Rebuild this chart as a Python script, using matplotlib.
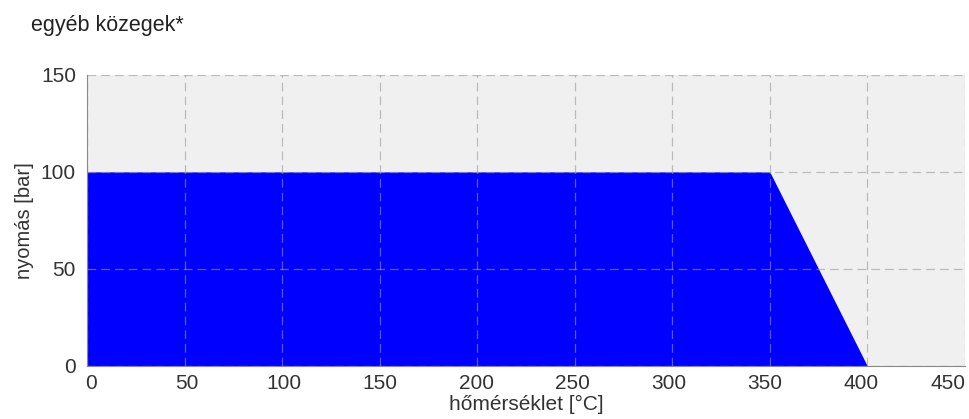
import matplotlib.pyplot as plt
from matplotlib.transforms import ScaledTranslation

plt.rcParams['font.family'] = ['Liberation Sans', 'DejaVu Sans']

# boundary of the allowed range
temp = [0, 350, 400]
pressure = [100, 100, 0]

xticks = [0, 50, 100, 150, 200, 250, 300, 350, 400, 450]
yticks = [0, 50, 100, 150]

fig = plt.figure(figsize=(9.7, 4.19), dpi=100)
ax = fig.add_axes([0.0897, 0.1265, 0.905, 0.695])
ax.set_facecolor('#f0f0f0')

ax.fill_between(temp, pressure, 0, color='#0000ff', linewidth=0, zorder=1)

ax.set_xlim(0, 450)
ax.set_ylim(0, 150)
ax.set_xticks(xticks)
ax.set_yticks(yticks)
ax.grid(True, linestyle=(0, (7, 4)), color='#999999', alpha=0.6, linewidth=0.9, zorder=2)
ax.set_axisbelow(False)
for s in ['top', 'right']:
    ax.spines[s].set_visible(False)
for s in ['left', 'bottom']:
    ax.spines[s].set_color('#888888')
    ax.spines[s].set_zorder(3)
ax.tick_params(length=0, labelsize=15, colors='#333333')
ax.tick_params(axis='x', pad=6)
ax.tick_params(axis='y', pad=8)

# first label starts at the axis, last one ends at it, the rest drift slightly left
labels = ax.get_xticklabels()
for v, lab in zip(xticks, labels):
    if v == xticks[0]:
        lab.set_ha('left')
        lab.set_transform(lab.get_transform() + ScaledTranslation(-2 / 100, 0, fig.dpi_scale_trans))
    elif v == xticks[-1]:
        lab.set_ha('right')
        lab.set_transform(lab.get_transform() + ScaledTranslation(1 / 100, 0, fig.dpi_scale_trans))
    else:
        dx = 2.7 - 0.025 * (v - 50)
        lab.set_transform(lab.get_transform() + ScaledTranslation(dx / 100, 0, fig.dpi_scale_trans))

ax.set_xlabel('hőmérséklet [°C]', fontsize=15, color='#333333', labelpad=1)
ax.set_ylabel('nyomás [bar]', fontsize=14.5, color='#333333', labelpad=5)
fig.text(0.032, 0.94, 'egyéb közegek*', fontsize=15.5, color='#222222', va='center')

fig.savefig('out.png')
